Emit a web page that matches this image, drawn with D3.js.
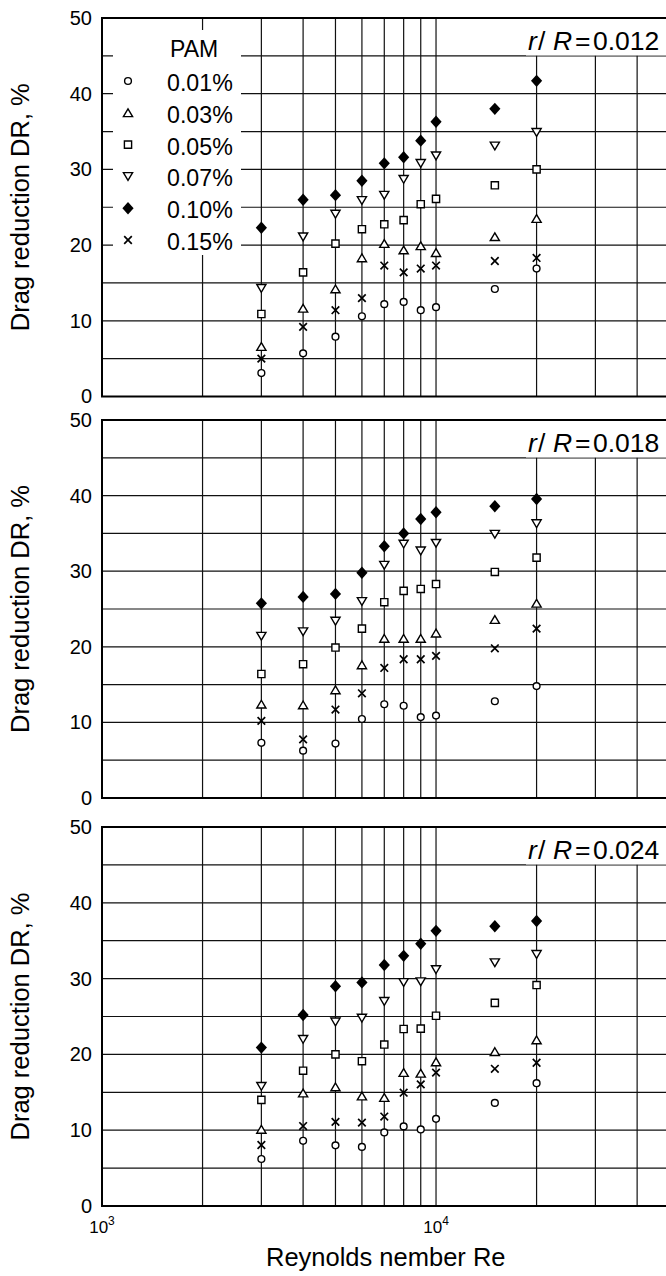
<!DOCTYPE html>
<html>
<head>
<meta charset="utf-8">
<script src="https://cdn.jsdelivr.net/npm/d3@7"></script>
<style>
  html, body { margin: 0; padding: 0; background: #fff; }
  svg { display: block; font-family: "Liberation Sans", Arial, Helvetica, sans-serif; }
</style>
</head>
<body>
<svg id="chart" width="666" height="1276"></svg>
<script>
// Reynolds numbers of the measured columns
const reynolds = [3000, 4000, 5000, 6000, 7000, 8000, 9000, 10000, 15000, 20000];

// PAM concentrations (legend order)
const pamLabels = ["0.01%", "0.03%", "0.05%", "0.07%", "0.10%", "0.15%"];
const pamSymbols = ["circle", "triUp", "square", "triDown", "diamond", "cross"];

// radial positions r/R of the three panels
const radialPositions = ["0.012", "0.018", "0.024"];

// drag reduction DR (%) at r/R = 0.012
const dr012_001 = [3.1, 5.7, 7.9, 10.6, 12.2, 12.5, 11.4, 11.8, 14.2, 16.9];
const dr012_003 = [6.6, 11.65, 14.2, 18.3, 20.2, 19.35, 19.9, 19.0, 21.1, 23.5];
const dr012_005 = [10.9, 16.4, 20.2, 22.1, 22.75, 23.3, 25.4, 26.1, 27.9, 30.0];
const dr012_007 = [14.3, 21.1, 24.1, 25.9, 26.6, 28.7, 30.8, 31.8, 33.1, 34.9];
const dr012_010 = [22.3, 26.0, 26.6, 28.5, 30.8, 31.6, 33.8, 36.3, 38.0, 41.7];
const dr012_015 = [5.0, 9.2, 11.4, 13.0, 17.3, 16.4, 16.9, 17.3, 17.9, 18.3];

// drag reduction DR (%) at r/R = 0.018
const dr018_001 = [7.3, 6.26, 7.2, 10.45, 12.4, 12.2, 10.7, 10.9, 12.8, 14.8];
const dr018_003 = [12.4, 12.3, 14.3, 17.6, 21.1, 21.1, 21.1, 21.8, 23.6, 25.75];
const dr018_005 = [16.4, 17.7, 19.9, 22.4, 25.9, 27.4, 27.65, 28.3, 29.9, 31.8];
const dr018_007 = [21.4, 22.0, 23.4, 26.0, 30.8, 33.6, 32.7, 33.7, 34.9, 36.3];
const dr018_010 = [25.75, 26.6, 27.0, 29.8, 33.3, 35.0, 36.9, 37.8, 38.6, 39.55];
const dr018_015 = [10.2, 7.76, 11.7, 13.85, 17.2, 18.35, 18.35, 18.8, 19.8, 22.4];

// drag reduction DR (%) at r/R = 0.024
const dr024_001 = [6.2, 8.6, 8.0, 7.8, 9.7, 10.5, 10.1, 11.5, 13.6, 16.2];
const dr024_003 = [10.1, 14.9, 15.7, 14.5, 14.3, 17.6, 17.5, 19.0, 20.35, 21.9];
const dr024_005 = [14.0, 17.85, 20.0, 19.1, 21.3, 23.35, 23.4, 25.1, 26.8, 29.15];
const dr024_007 = [15.8, 22.0, 24.3, 24.8, 27.0, 29.5, 29.6, 31.2, 32.1, 33.2];
const dr024_010 = [20.9, 25.2, 29.0, 29.5, 31.8, 33.0, 34.6, 36.3, 36.9, 37.6];
const dr024_015 = [8.05, 10.55, 11.1, 11.0, 11.8, 14.95, 16.05, 17.6, 18.1, 18.9];

const yTickValues = [0, 10, 20, 30, 40, 50];
const yGridValues = [5, 10, 15, 20, 25, 30, 35, 40, 45];

const panelSeries = [
  [dr012_001, dr012_003, dr012_005, dr012_007, dr012_010, dr012_015],
  [dr018_001, dr018_003, dr018_005, dr018_007, dr018_010, dr018_015],
  [dr024_001, dr024_003, dr024_005, dr024_007, dr024_010, dr024_015]
];

// ---- layout ----
const svg = d3.select("#chart");
const plotLeft = 102;
const panelBoxes = [
  { top: 18, bottom: 396.5 },
  { top: 420, bottom: 798 },
  { top: 827, bottom: 1206 }
];

const x = d3.scaleLog().domain([1e3, 5e4]).range([plotLeft, 669.5]);
const plotRight = x.range()[1];
const xGrid = x.ticks().filter(v => v > 1e3 && v < 5e4);

// marker shapes centred on the point
const markerPaths = {
  triUp: "M0,-4 L4.6,3.8 L-4.6,3.8 Z",
  triDown: "M0,4 L4.6,-3.8 L-4.6,-3.8 Z",
  square: "M-3.6,-3.6 H3.6 V3.6 H-3.6 Z",
  diamond: "M0,-6.2 L5.6,0 L0,6.2 L-5.6,0 Z",
  cross: "M-3.8,-3.8 L3.8,3.8 M-3.8,3.8 L3.8,-3.8"
};

function drawMarker(g, kind, cx, cy) {
  if (kind === "circle") {
    g.append("circle").attr("cx", cx).attr("cy", cy).attr("r", 3.4)
      .attr("fill", "#fff").attr("stroke", "#000").attr("stroke-width", 1.4);
  } else if (kind === "diamond") {
    g.append("path").attr("d", markerPaths.diamond)
      .attr("transform", `translate(${cx},${cy})`).attr("fill", "#000");
  } else if (kind === "cross") {
    g.append("path").attr("d", markerPaths.cross)
      .attr("transform", `translate(${cx},${cy})`)
      .attr("fill", "none").attr("stroke", "#000").attr("stroke-width", 1.7);
  } else {
    g.append("path").attr("d", markerPaths[kind])
      .attr("transform", `translate(${cx},${cy})`)
      .attr("fill", "#fff").attr("stroke", "#000").attr("stroke-width", 1.4)
      .attr("stroke-linejoin", "miter");
  }
}

panelBoxes.forEach((box, pi) => {
  const y = d3.scaleLinear().domain([0, 50]).range([box.bottom, box.top]);
  const g = svg.append("g");

  // grid
  g.append("g").selectAll("line.h").data(yGridValues).join("line")
    .attr("x1", plotLeft).attr("x2", plotRight)
    .attr("y1", d => y(d)).attr("y2", d => y(d))
    .attr("stroke", "#111").attr("stroke-width", 1.2);
  g.append("g").selectAll("line.v").data(xGrid).join("line")
    .attr("x1", d => x(d)).attr("x2", d => x(d))
    .attr("y1", box.top).attr("y2", box.bottom)
    .attr("stroke", "#111").attr("stroke-width", 1.2);

  // legend (first panel only)
  if (pi === 0) {
    g.append("rect").attr("x", 113).attr("y", 30).attr("width", 128).attr("height", 225)
      .attr("fill", "#fff");
    g.append("text").attr("x", 170).attr("y", 57).attr("font-size", 23).text("PAM");
    pamLabels.forEach((lab, i) => {
      const ly = 81 + i * 31.8;
      drawMarker(g, pamSymbols[i], 128, ly);
      g.append("text").attr("x", 167).attr("y", ly + 10).attr("font-size", 23.2).text(lab);
    });
  }

  // r/R label box
  const ly = box.top + 31.5;
  g.append("rect").attr("x", 526).attr("y", box.top + 1).attr("width", 150).attr("height", 36.5)
    .attr("fill", "#fff");
  const lab = g.append("text").attr("y", ly).attr("font-size", 26.5);
  lab.append("tspan").attr("x", 528).attr("font-style", "italic").text("r");
  lab.append("tspan").attr("x", 538).text("/");
  lab.append("tspan").attr("x", 553).attr("font-style", "italic").text("R");
  lab.append("tspan").attr("x", 575).text("=");
  lab.append("tspan").attr("x", 593).text(radialPositions[pi]);

  // frame: top, bottom and left axis lines
  g.append("line").attr("x1", plotLeft - 1).attr("x2", 700).attr("y1", box.top).attr("y2", box.top)
    .attr("stroke", "#000").attr("stroke-width", 2);
  g.append("line").attr("x1", plotLeft - 1).attr("x2", 700).attr("y1", box.bottom).attr("y2", box.bottom)
    .attr("stroke", "#000").attr("stroke-width", 2);
  g.append("line").attr("x1", plotLeft).attr("x2", plotLeft).attr("y1", box.top).attr("y2", box.bottom)
    .attr("stroke", "#000").attr("stroke-width", 2);

  // y axis tick labels
  const yAxis = d3.axisLeft(y).tickValues(yTickValues).tickSize(0).tickPadding(10);
  const ya = g.append("g").attr("transform", `translate(${plotLeft},0)`).call(yAxis);
  ya.select(".domain").remove();
  ya.attr("font-size", 20).attr("font-family", null);
  ya.selectAll("text").attr("fill", "#000");

  // y axis title
  g.append("text")
    .attr("transform", `translate(29,${(box.top + box.bottom) / 2}) rotate(-90)`)
    .attr("text-anchor", "middle").attr("font-size", 25.5)
    .text("Drag reduction DR, %");

  // data markers
  panelSeries[pi].forEach((series, si) => {
    series.forEach((v, k) => drawMarker(g, pamSymbols[si], x(reynolds[k]), y(v)));
  });
});

// x axis decade labels under the last panel
const xLabelY = 1233;
[1e3, 1e4].forEach(v => {
  const t = svg.append("text").attr("x", x(v)).attr("y", xLabelY)
    .attr("text-anchor", "middle").attr("font-size", 17);
  t.append("tspan").text("10");
  t.append("tspan").attr("dy", -8).attr("font-size", 12).text(Math.round(Math.log10(v)));
});

svg.append("text").attr("x", (plotLeft + plotRight) / 2).attr("y", 1266)
  .attr("text-anchor", "middle").attr("font-size", 25.5)
  .text("Reynolds nember Re");
</script>
</body>
</html>
